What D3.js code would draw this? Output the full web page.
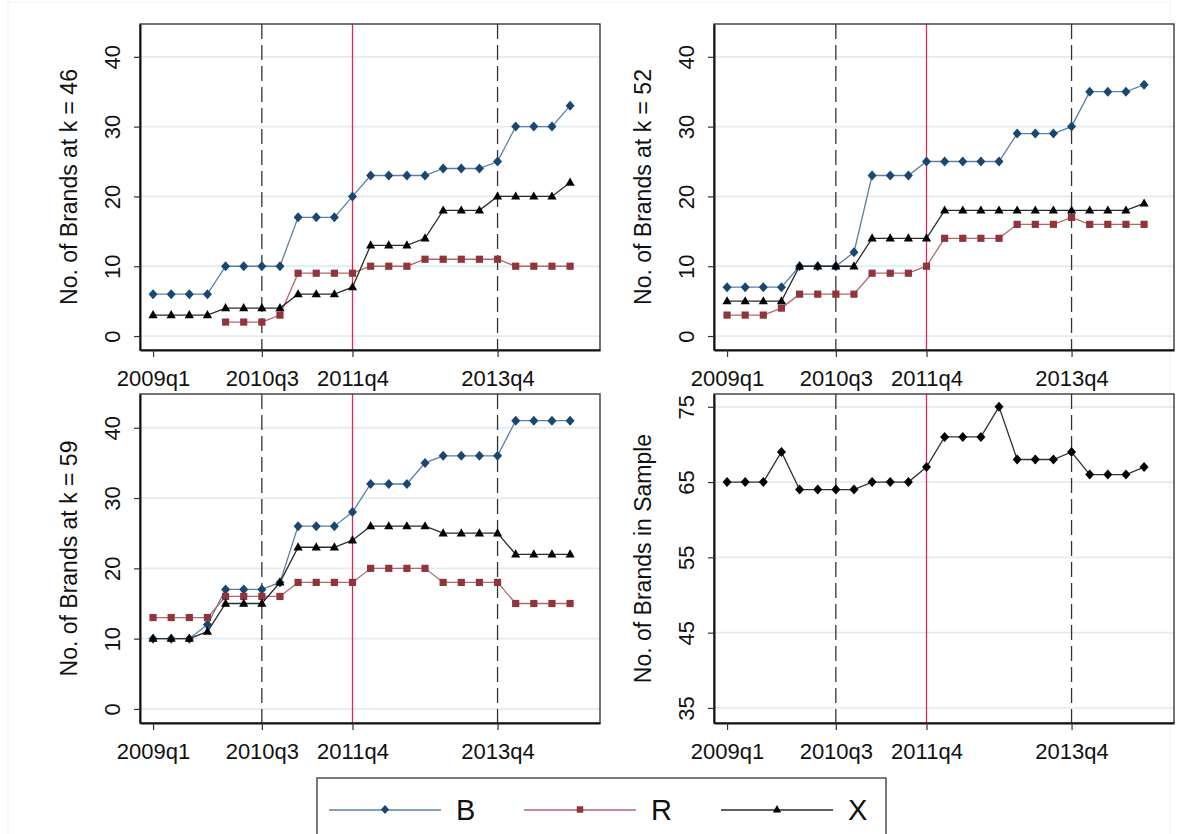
<!DOCTYPE html>
<html>
<head>
<meta charset="utf-8">
<script src="https://cdn.jsdelivr.net/npm/d3@7/dist/d3.min.js"></script>
<style>
  html, body { margin: 0; padding: 0; background: #fff; }
  svg { display: block; font-family: "Liberation Sans", Arial, sans-serif; }
</style>
</head>
<body>
<svg id="chart" width="1177" height="834"></svg>
<script>
// Quarterly periods, 2009q1 .. 2014q4
const quarters = [];
for (let y = 2009; y <= 2014; y++) for (let q = 1; q <= 4; q++) quarters.push(y + "q" + q);

const tickQuarters = ["2009q1", "2010q3", "2011q4", "2013q4"];
const dashedQuarters = ["2010q3", "2013q4"];
const redQuarter = "2011q4";

// Number of brands at k = 46
const b46 = [6,6,6,6,10,10,10,10,17,17,17,20,23,23,23,23,24,24,24,25,30,30,30,33];
const r46 = [null,null,null,null,2,2,2,3,9,9,9,9,10,10,10,11,11,11,11,11,10,10,10,10];
const x46 = [3,3,3,3,4,4,4,4,6,6,6,7,13,13,13,14,18,18,18,20,20,20,20,22];

// Number of brands at k = 52
const b52 = [7,7,7,7,10,10,10,12,23,23,23,25,25,25,25,25,29,29,29,30,35,35,35,36];
const r52 = [3,3,3,4,6,6,6,6,9,9,9,10,14,14,14,14,16,16,16,17,16,16,16,16];
const x52 = [5,5,5,5,10,10,10,10,14,14,14,14,18,18,18,18,18,18,18,18,18,18,18,19];

// Number of brands at k = 59
const b59 = [10,10,10,12,17,17,17,18,26,26,26,28,32,32,32,35,36,36,36,36,41,41,41,41];
const r59 = [13,13,13,13,16,16,16,16,18,18,18,18,20,20,20,20,18,18,18,18,15,15,15,15];
const x59 = [10,10,10,11,15,15,15,18,23,23,23,24,26,26,26,26,25,25,25,25,22,22,22,22];

// Number of brands in sample
const sample = [65,65,65,69,64,64,64,64,65,65,65,67,71,71,71,75,68,68,68,69,66,66,66,67];

const yTicksBrands = [0, 10, 20, 30, 40];
const yTicksSample = [35, 45, 55, 65, 75];

const FONT = '"Liberation Sans", Arial, sans-serif';

const seriesStyle = {
  B: { line: "#5a80a6", fill: "#1a476f", shape: "diamond" },
  R: { line: "#b06a6e", fill: "#90353b", shape: "square" },
  X: { line: "#2b2b2b", fill: "#000000", shape: "triangle" },
  S: { line: "#333333", fill: "#000000", shape: "diamond" }
};

const panels = [
  { left: 140, top: 24,  width: 460, height: 326, yDomain: [-2, 44.7], yTicks: yTicksBrands,
    title: "No. of Brands at k = 46", series: [["B", b46], ["R", r46], ["X", x46]] },
  { left: 714, top: 24,  width: 460, height: 326, yDomain: [-2, 44.7], yTicks: yTicksBrands,
    title: "No. of Brands at k = 52", series: [["B", b52], ["R", r52], ["X", x52]] },
  { left: 140, top: 394, width: 460, height: 329, yDomain: [-2, 44.8], yTicks: yTicksBrands,
    title: "No. of Brands at k = 59", series: [["B", b59], ["R", r59], ["X", x59]] },
  { left: 714, top: 394, width: 460, height: 329, yDomain: [33, 76.7], yTicks: yTicksSample,
    title: "No. of Brands in Sample", series: [["S", sample]] }
];

const svg = d3.select("#chart");

// faint outer frame
svg.append("rect").attr("x", 8).attr("y", 2).attr("width", 1162).attr("height", 840)
  .attr("fill", "none").attr("stroke", "#f0f0f0").attr("stroke-width", 1);

function markerPath(shape) {
  if (shape === "diamond") return "M0,-5L4.5,0L0,5L-4.5,0Z";
  if (shape === "square") return "M-3.6,-3.6H3.6V3.6H-3.6Z";
  return "M0,-5L4.6,3.2H-4.6Z";
}

panels.forEach(p => {
  const g = svg.append("g").attr("transform", `translate(${p.left},${p.top})`);
  const x = d3.scaleLinear().domain([-0.72, 24.65]).range([0, p.width]);
  const y = d3.scaleLinear().domain(p.yDomain).range([p.height, 0]);
  const qx = q => x(quarters.indexOf(q));

  // horizontal grid
  g.append("g").selectAll("line").data(p.yTicks).join("line")
    .attr("x1", 0).attr("x2", p.width)
    .attr("y1", d => y(d)).attr("y2", d => y(d))
    .attr("stroke", "#e3ecef").attr("stroke-width", 1.8);

  // reference lines
  g.append("g").selectAll("line").data(dashedQuarters).join("line")
    .attr("x1", d => qx(d)).attr("x2", d => qx(d))
    .attr("y1", 0).attr("y2", p.height)
    .attr("stroke", "#333").attr("stroke-width", 1.3)
    .attr("stroke-dasharray", "15,6");
  g.append("line")
    .attr("x1", qx(redQuarter)).attr("x2", qx(redQuarter))
    .attr("y1", 0).attr("y2", p.height)
    .attr("stroke", "#dc2a55").attr("stroke-width", 1.3);

  // series lines and markers
  p.series.forEach(([key, vals]) => {
    const st = seriesStyle[key];
    const line = d3.line()
      .defined(d => d != null)
      .x((d, i) => x(i))
      .y(d => y(d));
    g.append("path").datum(vals)
      .attr("d", line)
      .attr("fill", "none")
      .attr("stroke", st.line)
      .attr("stroke-width", 1.3);
    g.append("g").selectAll("path")
      .data(vals.map((v, i) => ({ v, i })).filter(d => d.v != null))
      .join("path")
      .attr("transform", d => `translate(${x(d.i)},${y(d.v)})`)
      .attr("d", markerPath(st.shape))
      .attr("fill", st.fill);
  });

  // frame
  g.append("rect").attr("width", p.width).attr("height", p.height)
    .attr("fill", "none").attr("stroke", "#3a3a3a").attr("stroke-width", 1.4);

  // y axis
  const yAxis = d3.axisLeft(y).tickValues(p.yTicks).tickSize(6).tickSizeOuter(0)
    .tickPadding(0).tickFormat(d3.format("d"));
  const ya = g.append("g").call(yAxis).attr("font-family", FONT);
  ya.select(".domain").attr("stroke", "#111").attr("stroke-width", 2);
  ya.selectAll(".tick line").attr("stroke", "#333").attr("stroke-width", 1.2);
  ya.selectAll(".tick text")
    .attr("x", 0).attr("dy", null)
    .attr("transform", "translate(-20,0) rotate(-90)")
    .attr("text-anchor", "middle")
    .attr("font-size", 22).attr("fill", "#111");

  // x axis
  const xAxis = d3.axisBottom(x)
    .tickValues(tickQuarters.map(q => quarters.indexOf(q)))
    .tickSize(7).tickSizeOuter(0).tickPadding(0)
    .tickFormat(i => quarters[i]);
  const xa = g.append("g").attr("transform", `translate(0,${p.height})`).call(xAxis)
    .attr("font-family", FONT);
  xa.select(".domain").attr("stroke", "#111").attr("stroke-width", 2);
  xa.selectAll(".tick line").attr("stroke", "#333").attr("stroke-width", 1.2);
  xa.selectAll(".tick text")
    .attr("y", 36).attr("dy", null)
    .attr("font-size", 22).attr("fill", "#111");

  // y title
  g.append("text")
    .attr("transform", `translate(-63,${p.height / 2}) rotate(-90)`)
    .attr("text-anchor", "middle")
    .attr("font-size", 23).attr("fill", "#111")
    .text(p.title);
});

// legend
const legendItems = [
  { key: "B", label: "B", x0: 329 },
  { key: "R", label: "R", x0: 524 },
  { key: "X", label: "X", x0: 721 }
];
const lg = svg.append("g");
lg.append("rect").attr("x", 317).attr("y", 778).attr("width", 569).attr("height", 62)
  .attr("fill", "#fff").attr("stroke", "#444").attr("stroke-width", 1.4);
legendItems.forEach(it => {
  const st = seriesStyle[it.key];
  lg.append("line").attr("x1", it.x0).attr("x2", it.x0 + 112)
    .attr("y1", 810).attr("y2", 810)
    .attr("stroke", st.line).attr("stroke-width", 1.3);
  lg.append("path").attr("transform", `translate(${it.x0 + 56},809.5) scale(0.9)`)
    .attr("d", markerPath(st.shape)).attr("fill", st.fill);
  lg.append("text").attr("x", it.x0 + 127).attr("y", 820)
    .attr("font-size", 29).attr("fill", "#111").text(it.label);
});
</script>
</body>
</html>
